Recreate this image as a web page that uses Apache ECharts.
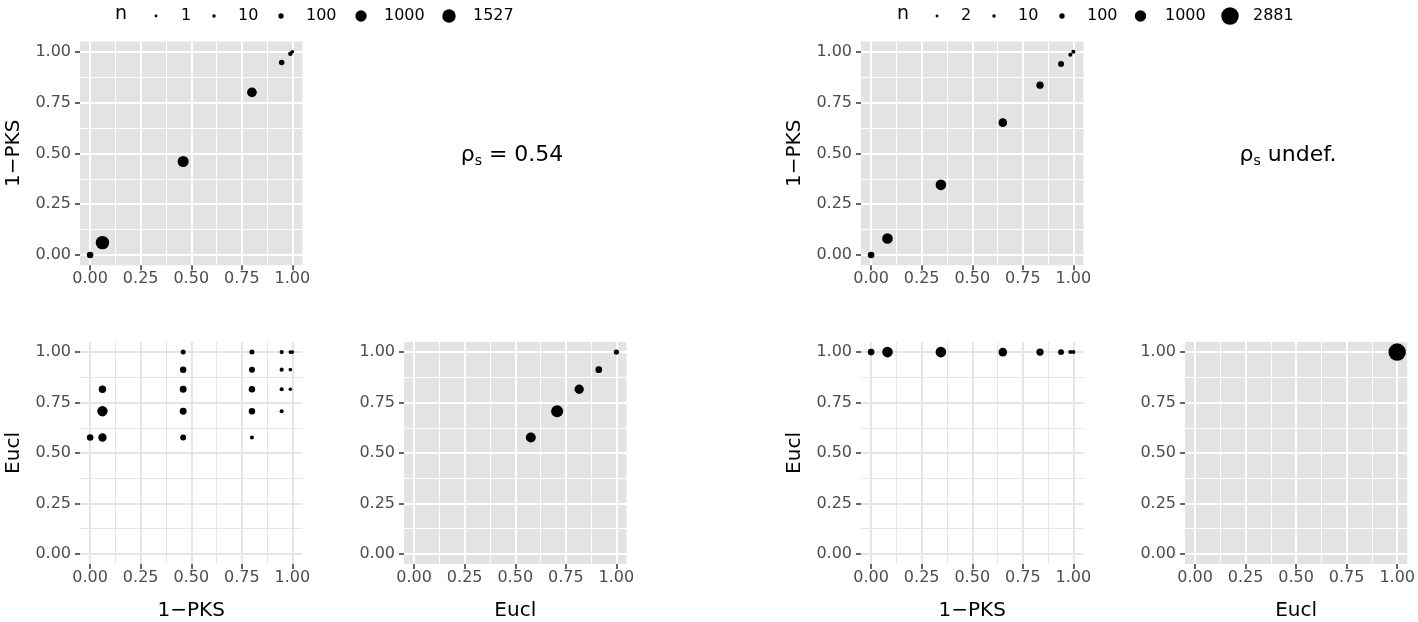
<!DOCTYPE html>
<html><head><meta charset="utf-8">
<script src="https://cdn.jsdelivr.net/npm/echarts@6/dist/echarts.min.js"></script>
<style>html,body{margin:0;padding:0;background:#fff}#c{width:1418px;height:622px}</style>
</head><body><div id="c"></div>
<script>
// ---------- data ----------
const tickValues  = [0, 0.25, 0.5, 0.75, 1];
const minorValues = [0.125, 0.375, 0.625, 0.875];

// left block
const leftPksLevels  = [0, 0.061, 0.46, 0.80, 0.947, 0.99, 1.0];
const leftPksN       = [204, 1527, 930, 670, 116, 50, 15];
const leftEuclLevels = [0.577, 0.707, 0.816, 0.913, 1.0];
const leftEuclN      = [717, 1151, 590, 225, 100];
const leftJointX = [0, 0.061, 0.061, 0.061, 0.46, 0.46, 0.46, 0.46, 0.46, 0.80, 0.80, 0.80, 0.80, 0.80, 0.947, 0.947, 0.947, 0.947, 0.99, 0.99, 0.99, 1.0];
const leftJointY = [0.577, 0.577, 0.707, 0.816, 0.577, 0.707, 0.816, 0.913, 1.0, 0.577, 0.707, 0.816, 0.913, 1.0, 0.707, 0.816, 0.913, 1.0, 0.816, 0.913, 1.0, 1.0];
const leftJointN = [204, 440, 780, 307, 150, 250, 250, 200, 80, 30, 200, 200, 160, 80, 29, 35, 35, 35, 15, 15, 20, 15];
const leftLegendBreaks = [1, 10, 100, 1000, 1527];
const leftRho = 'ρs = 0.54';

// right block
const rightPksLevels  = [0, 0.081, 0.345, 0.651, 0.835, 0.939, 0.985, 1.0];
const rightPksN       = [220, 840, 840, 480, 290, 150, 30, 31];
const rightJointX = [0, 0.081, 0.345, 0.651, 0.835, 0.939, 0.985, 1.0];
const rightJointY = [1, 1, 1, 1, 1, 1, 1, 1];
const rightJointN = [220, 840, 840, 480, 290, 150, 30, 31];
const rightEuclLevels = [1.0];
const rightEuclN      = [2881];
const rightLegendBreaks = [2, 10, 100, 1000, 2881];
const rightRho = 'ρs undef.';

// ---------- styling / layout ----------
const FONT = 'DejaVu Sans';
const sizeOf = n => 2.5 + 0.28 * Math.sqrt(n);
const PW = 222.5, PH = 223.7;
const GREY_BG = '#e3e3e3';

const panels = [
  {left: 80,  top: 41.5, bg: GREY_BG, line: '#ffffff', yName: '1−PKS', xName: ''},
  {left: 80,  top: 342,  bg: '#ffffff', line: '#e6e6e6', yName: 'Eucl', xName: '1−PKS'},
  {left: 404, top: 342,  bg: GREY_BG, line: '#ffffff', yName: '', xName: 'Eucl'},
  {left: 861, top: 41.5, bg: GREY_BG, line: '#ffffff', yName: '1−PKS', xName: ''},
  {left: 861, top: 342,  bg: '#ffffff', line: '#e6e6e6', yName: 'Eucl', xName: '1−PKS'},
  {left: 1185, top: 342, bg: GREY_BG, line: '#ffffff', yName: '', xName: 'Eucl'}
];

const diag = (lv, ns) => lv.map((v, i) => [v, v, ns[i]]);
const joint = (xs, ys, ns) => xs.map((v, i) => [v, ys[i], ns[i]]);
const panelData = [
  diag(leftPksLevels, leftPksN),
  joint(leftJointX, leftJointY, leftJointN),
  diag(leftEuclLevels, leftEuclN),
  diag(rightPksLevels, rightPksN),
  joint(rightJointX, rightJointY, rightJointN),
  diag(rightEuclLevels, rightEuclN)
];

const grid = [], xAxis = [], yAxis = [], series = [];
panels.forEach((p, i) => {
  grid.push({left: p.left, top: p.top, width: PW, height: PH, show: true,
    backgroundColor: p.bg, borderWidth: 0, containLabel: false});
  const common = {type: 'value', gridIndex: i, min: -0.05, max: 1.05,
    axisLine: {show: false, onZero: false}};
  const mainX = Object.assign({}, common, {
    position: 'bottom',
    axisTick: {show: true, length: 5, customValues: tickValues, lineStyle: {color: '#333', width: 1.5}},
    axisLabel: {customValues: tickValues, formatter: v => v.toFixed(2), color: '#4d4d4d',
      fontSize: 16, fontFamily: FONT, margin: 6},
    splitLine: {show: true, lineStyle: {color: p.line, width: 2}},
    name: p.xName, nameLocation: 'middle', nameGap: 37,
    nameTextStyle: {fontSize: 20, color: '#000', fontFamily: FONT}
  });
  const mainY = Object.assign({}, common, {
    position: 'left',
    axisTick: {show: true, length: 5, customValues: tickValues, lineStyle: {color: '#333', width: 1.5}},
    axisLabel: {customValues: tickValues, formatter: v => v.toFixed(2), color: '#4d4d4d',
      fontSize: 16, fontFamily: FONT, margin: 9},
    splitLine: {show: true, lineStyle: {color: p.line, width: 2}},
    name: p.yName, nameLocation: 'middle', nameGap: 56,
    nameTextStyle: {fontSize: 20, color: '#000', fontFamily: FONT}
  });
  const minor = Object.assign({}, common, {
    axisTick: {show: false, customValues: minorValues},
    axisLabel: {show: false, customValues: minorValues},
    splitLine: {show: true, lineStyle: {color: p.line, width: 1}}
  });
  xAxis.push(mainX, Object.assign({}, minor, {position: 'top'}));
  yAxis.push(mainY, Object.assign({}, minor, {position: 'right'}));
  series.push({
    type: 'scatter', xAxisIndex: 2 * i, yAxisIndex: 2 * i,
    data: panelData[i], symbol: 'circle',
    symbolSize: v => sizeOf(v[2]),
    itemStyle: {color: '#000', opacity: 1},
    clip: false, silent: true, z: 5
  });
});

// legends (layout positions)
const legendLayouts = [
  {titleX: 115, dotX: [156, 214, 281, 361, 449], labelX: [181, 238, 306, 384, 473], breaks: leftLegendBreaks},
  {titleX: 897, dotX: [937, 994, 1062, 1140.5, 1230], labelX: [961, 1018, 1087, 1165, 1253], breaks: rightLegendBreaks}
];
const LEG_Y = 15;
const graphic = [];
legendLayouts.forEach(L => {
  graphic.push({type: 'text', left: L.titleX, top: LEG_Y - 10,
    style: {text: 'n', fontSize: 19, fontFamily: FONT, fill: '#000'}});
  L.breaks.forEach((b, k) => {
    graphic.push({type: 'circle', shape: {cx: L.dotX[k], cy: LEG_Y + 1, r: sizeOf(b) / 2},
      style: {fill: '#000'}});
    graphic.push({type: 'text', x: L.labelX[k], y: LEG_Y + 1,
      style: {text: String(b), fontSize: 16, fontFamily: FONT, fill: '#000',
        align: 'left', verticalAlign: 'middle'}});
  });
});
const rhoRich = s => '{a|ρ}{b|s}{a|' + s.slice(2) + '}';
const rich = {
  a: {fontSize: 22, fontFamily: FONT, fill: '#000', lineHeight: 26, verticalAlign: 'middle'},
  b: {fontSize: 14, fontFamily: FONT, fill: '#000', lineHeight: 14, verticalAlign: 'bottom'}
};
graphic.push({type: 'text', x: 512, y: 155,
  style: {text: rhoRich(leftRho), rich: rich, align: 'center', verticalAlign: 'middle', fill: '#000', fontFamily: FONT}});
graphic.push({type: 'text', x: 1288, y: 155,
  style: {text: rhoRich(rightRho), rich: rich, align: 'center', verticalAlign: 'middle', fill: '#000', fontFamily: FONT}});

const chart = echarts.init(document.getElementById('c'), null, {renderer: 'canvas'});
chart.setOption({
  animation: false,
  backgroundColor: '#ffffff',
  textStyle: {fontFamily: FONT},
  grid, xAxis, yAxis, series, graphic
});
</script></body></html>
